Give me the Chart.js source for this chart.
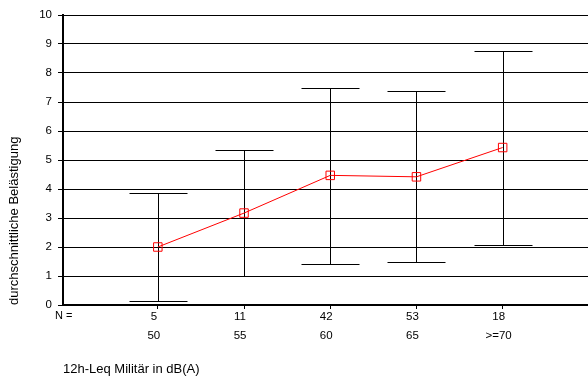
<!DOCTYPE html>
<html>
<head>
<meta charset="utf-8">
<script src="https://cdn.jsdelivr.net/npm/chart.js@4"></script>
<style>
  html, body { margin: 0; padding: 0; background: #fff; }
  #wrap { width: 588px; height: 378px; }
</style>
</head>
<body>
<div id="wrap"><canvas id="report" width="588" height="378"></canvas></div>
<script>
const nCounts = ['5', '11', '42', '53', '18'];
const levels = ['50', '55', '60', '65', '>=70'];
const means = [2.0, 3.17, 4.47, 4.42, 5.43];
const upper = [3.87, 5.36, 7.5, 7.37, 8.77];
const lower = [0.14, 1.0, 1.4, 1.48, 2.08];
const yTicks = [0, 1, 2, 3, 4, 5, 6, 7, 8, 9, 10];

const fontFamily = '"Liberation Sans", Arial, sans-serif';

// error bars drawn behind the line
const errorBars = {
    id: 'errorBars',
    beforeDatasetsDraw(chart) {
        const { ctx, scales: { x, y } } = chart;
        ctx.save();
        ctx.strokeStyle = '#000';
        ctx.lineWidth = 1;
        means.forEach((m, i) => {
            const px = Math.round(x.getPixelForValue(i + 1)) + 0.5;
            const top = Math.round(y.getPixelForValue(upper[i])) + 0.5;
            const bot = Math.round(y.getPixelForValue(lower[i])) + 0.5;
            ctx.beginPath();
            ctx.moveTo(px, top);
            ctx.lineTo(px, bot);
            ctx.moveTo(px - 29, top);
            ctx.lineTo(px + 29, top);
            ctx.moveTo(px - 29, bot);
            ctx.lineTo(px + 29, bot);
            ctx.stroke();
        });
        ctx.restore();
    }
};

// "N =" row label
const nLabel = {
    id: 'nLabel',
    afterDraw(chart) {
        const { ctx, chartArea } = chart;
        ctx.save();
        ctx.font = '11px ' + fontFamily;
        ctx.fillStyle = '#000';
        ctx.textAlign = 'left';
        ctx.textBaseline = 'middle';
        ctx.fillText('N =', chartArea.left - 8, chartArea.bottom + 11);
        ctx.restore();
    }
};

const ctx = document.getElementById('report').getContext('2d');
const myChart = new Chart(ctx, {
    type: 'line',
    data: {
        datasets: [{
            data: means.map((m, i) => ({ x: i + 1, y: m })),
            borderColor: '#ff0000',
            borderWidth: 1,
            pointStyle: 'rect',
            pointRadius: 6,
            pointBorderColor: '#ff0000',
            pointBackgroundColor: 'rgba(255,255,255,0)',
            pointBorderWidth: 1,
            tension: 0
        }]
    },
    options: {
        responsive: false,
        animation: false,
        layout: { autoPadding: false, padding: { top: 15, right: 0, left: 0, bottom: 0 } },
        plugins: { legend: { display: false }, tooltip: { enabled: false } },
        scales: {
            x: {
                type: 'linear',
                min: -0.1,
                max: 5.99,
                afterBuildTicks: scale => { scale.ticks = [1, 2, 3, 4, 5].map(v => ({ value: v })); },
                afterFit: scale => { scale.height = 73; },
                border: { display: true, color: '#000', width: 2 },
                grid: { drawOnChartArea: false, drawTicks: true, tickLength: 4, color: '#000' },
                ticks: {
                    color: '#000',
                    font: { family: fontFamily, size: 11.5, lineHeight: 1.7 },
                    padding: -2,
                    labelOffset: -4,
                    maxRotation: 0,
                    autoSkip: false,
                    callback: v => [nCounts[v - 1], levels[v - 1]]
                },
                title: {
                    display: true,
                    text: '12h-Leq Militär in dB(A)',
                    align: 'start',
                    color: '#000',
                    font: { family: fontFamily, size: 13 },
                    padding: { top: 0, bottom: 1 }
                }
            },
            y: {
                min: 0,
                max: 10,
                afterBuildTicks: scale => { scale.ticks = yTicks.map(v => ({ value: v })); },
                afterFit: scale => { scale.width = 63; },
                border: { display: true, color: '#000', width: 2 },
                grid: { color: '#000', lineWidth: 1, tickLength: 5 },
                ticks: {
                    color: '#000',
                    font: { family: fontFamily, size: 11.5 },
                    padding: 6
                },
                title: {
                    display: true,
                    text: 'durchschnittliche Belästigung',
                    align: 'start',
                    color: '#000',
                    font: { family: fontFamily, size: 13 },
                    padding: { top: 7, bottom: 0 }
                }
            }
        }
    },
    plugins: [errorBars, nLabel]
});
</script>
</body>
</html>
